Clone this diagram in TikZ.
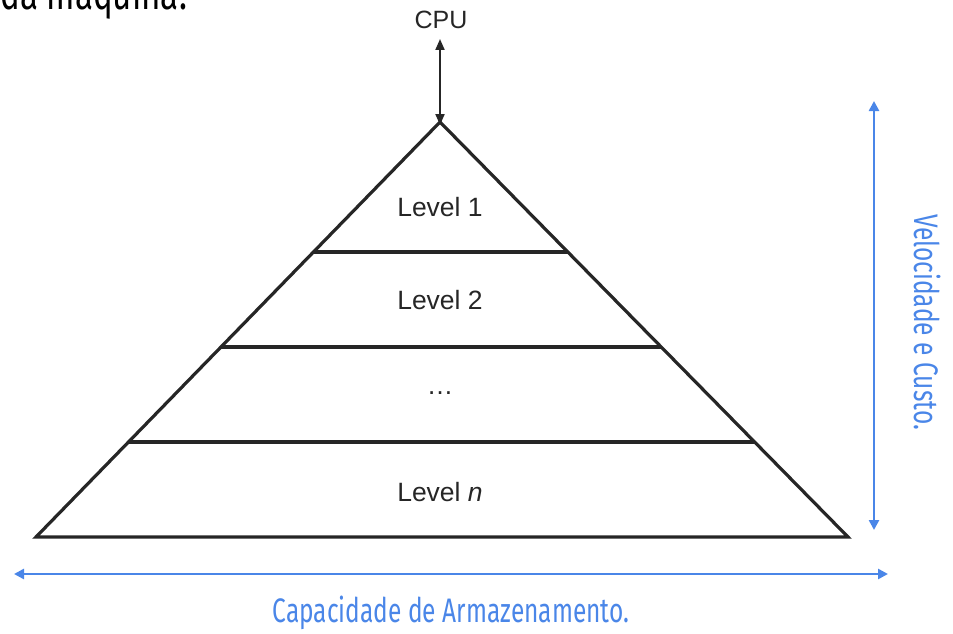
\documentclass[tikz,border=0pt]{standalone}
\usepackage{fontspec}
\setmainfont{Liberation Sans}
\newfontfamily\cond[FakeStretch=0.72]{Fira Sans}
\usetikzlibrary{arrows.meta}
\definecolor{gblue}{HTML}{4A86E8}
\begin{document}
\begin{tikzpicture}[x=1pt,y=-1pt,
  pyr/.style={line width=3.2pt, draw=black!85},
  lbl/.style={font=\fontsize{26.5}{30}\selectfont, text=black!85, inner sep=0pt},
  bluearrow/.style={draw=gblue, line width=2.6pt, {Triangle[length=10pt,width=10pt]}-{Triangle[length=10pt,width=10pt]}},
  bluetext/.style={font=\cond\fontsize{34}{40}\selectfont, text=gblue, inner sep=0pt}]
\useasboundingbox (0,0) rectangle (953,634);
% top partial text
\node[font=\cond\fontsize{46}{50}\selectfont, anchor=base west, inner sep=0pt] (top) at (0,10) {da máquina.};
% pyramid
\coordinate (apex) at (440,122);
\coordinate (bl) at (36,537);
\coordinate (br) at (848,537);
\draw[pyr, line join=miter] (apex) -- (br) -- (bl) -- cycle;
\coordinate (l1) at (313.4,252); \coordinate (r1) at (567.8,252);
\coordinate (l2) at (220.9,347); \coordinate (r2) at (661.2,347);
\coordinate (l3) at (128.4,442); \coordinate (r3) at (754.6,442);
\draw[pyr] (l1) -- (r1);
\draw[pyr] (l2) -- (r2);
\draw[pyr] (l3) -- (r3);
\node[lbl] (lev1) at (440,207) {Level 1};
\node[lbl] (lev2) at (440,300) {Level 2};
\node[lbl] (dots) at (440,393) {\dots};
\node[lbl] (levn) at (440,492) {Level \textit{n}};
% CPU
\node[lbl, font=\fontsize{25}{28}\selectfont] (cpu) at (441,20) {CPU};
\draw[line width=2pt, black!85, {Triangle[length=11pt,width=9pt]}-{Triangle[length=11pt,width=9pt]}] (440,39) -- ([yshift=-3pt]apex);
% blue arrows
\coordinate (vtop) at (874,101);
\coordinate (vbot) at (874,530);
\draw[bluearrow] (vtop) -- (vbot);
\coordinate (hl) at (14,574);
\coordinate (hr) at (888,574);
\draw[bluearrow] (hl) -- (hr);
\node[bluetext, rotate=-90] (vel) at (928,322) {Velocidade e Custo.};
\node[bluetext] (cap) at (451,613) {Capacidade de Armazenamento.};
\end{tikzpicture}
\end{document}
